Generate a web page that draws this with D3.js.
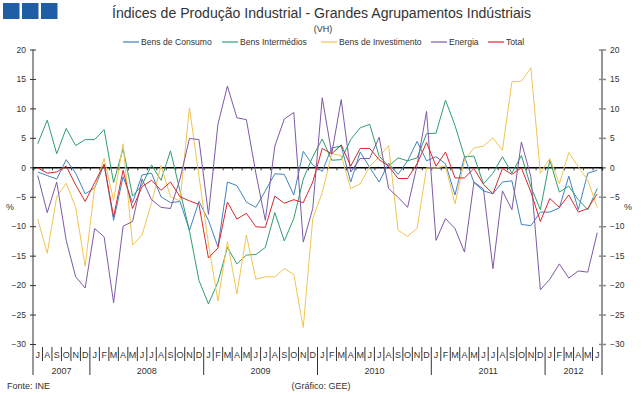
<!DOCTYPE html>
<html>
<head>
<meta charset="utf-8">
<style>
  body { margin: 0; background: #fff; }
  svg text { font-family: "Liberation Sans", Arial, sans-serif; fill: #333; }
</style>
</head>
<body>
<div id="chart"></div>
<script src="https://d3js.org/d3.v7.min.js"></script>
<script>
// categories: Jul 2007 .. Jun 2012
var years = ["2007", "2008", "2009", "2010", "2011", "2012"];
var monthsPerYear = [6, 12, 12, 12, 12, 6];
var months = [
  "J","A","S","O","N","D",
  "J","F","M","A","M","J","J","A","S","O","N","D",
  "J","F","M","A","M","J","J","A","S","O","N","D",
  "J","F","M","A","M","J","J","A","S","O","N","D",
  "J","F","M","A","M","J","J","A","S","O","N","D",
  "J","F","M","A","M","J"
];
var yTicks = [-30, -25, -20, -15, -10, -5, 0, 5, 10, 15, 20];

// VH (%) por agrupamento
var consumo = [
  -0.8, -1.4, -2.0, 1.3, -1.0, -4.5, -3.5, 0.5, -9.0, -1.6, -6.0, -1.3,
  -1.0, -5.0, -6.0, -5.8, -10.7, -5.8, -9.0, -13.5, -2.5, -3.1, -5.9, -6.8,
  -4.0, -1.1, -1.2, -4.7, 2.7, 0.4, -0.7, 3.3, 3.6, -2.5, 2.6, 0.0,
  -2.5, 0.7, -1.2, 1.1, 4.4, 1.1, 1.8, 0.6, -4.7, 1.8, -2.6, -4.0,
  -4.5, -2.5, -2.3, -9.7, -9.9, -7.6, -7.6, -6.9, -1.5, -7.2, -1.0, -0.5
];
var intermedios = [
  4.0, 8.0, 2.3, 6.6, 3.7, 4.7, 4.7, 6.4, -2.6, 3.2, -4.9, -3.0,
  0.4, -2.2, 2.8, -4.0, -10.8, -19.2, -23.2, -19.5, -13.6, -16.4, -14.9, -14.8,
  -13.6, -7.7, -12.5, -8.7, -2.0, 1.8, 4.8, 1.2, 1.3, 4.7, 6.7, 7.3,
  1.9, 0.2, 1.6, 1.1, 1.6, 5.7, 5.8, 11.4, 7.1, 1.8, 1.9, -2.8,
  -1.0, 1.8, -1.0, 2.0, -3.3, -7.2, 1.2, -4.2, -3.2, -5.5, -7.2, -3.6
];
var investimento = [
  -8.8, -14.6, -5.0, -2.7, -6.8, -16.8, -3.4, 1.5, -5.6, 4.0, -13.2, -11.5,
  -6.0, 0.3, -5.0, -5.7, 10.1, -1.5, -13.0, -22.7, -12.6, -21.5, -11.5, -19.0,
  -18.6, -18.6, -17.2, -18.2, -27.2, -8.7, -4.3, 2.3, 2.0, -3.6, -2.8, 0.1,
  1.8, 3.7, -10.7, -11.7, -10.4, -0.1, -0.1, 0.2, -6.2, 1.2, 3.3, 3.6,
  5.0, 2.9, 14.5, 14.6, 16.9, -1.0, 1.5, -2.8, 2.5, 0.1, -2.2, -6.8
];
var energia = [
  -1.4, -7.7, -2.5, -12.4, -18.6, -20.5, -10.4, -11.8, -23.0, -10.0, -9.2, -2.0,
  -5.5, -6.8, -7.0, -2.0, 4.9, 4.7, -8.0, 7.3, 13.8, 8.4, 8.1, -1.0,
  -9.0, 3.6, 8.2, 9.3, -12.7, -7.0, 11.8, 2.3, 11.5, -0.8, 1.5, 1.5,
  5.1, -3.6, -5.1, -6.8, 0.3, 9.5, -12.4, -8.7, -10.4, -14.4, -2.5, -3.7,
  -17.2, -4.0, -7.2, 4.3, -1.6, -20.8, -19.0, -16.4, -18.8, -17.6, -17.8, -11.1
];
var total = [
  -0.1, -1.0, -0.8, 0.2, -3.0, -5.8, -2.6, 0.5, -8.4, -0.5, -7.0, -3.3,
  -2.2, -3.9, -2.5, -5.0, -5.7, -6.3, -15.4, -13.7, -5.9, -8.8, -7.8, -10.1,
  -10.2, -4.9, -6.1, -5.5, -6.0, -2.5, 3.2, 2.3, 3.8, 0.2, 3.2, 3.2,
  1.3, 0.2, -1.9, -1.9, 0.6, 4.2, 0.2, 2.6, -1.8, -1.8, -0.2, -2.9,
  -4.5, -0.2, -1.2, -0.1, -4.2, -9.2, -5.3, -6.8, -4.7, -7.6, -7.0, -4.5
];

var seriesNames = ["Bens de Consumo", "Bens Intermédios", "Bens de Investimento", "Energia", "Total"];
var seriesColors = ["#4282c2", "#2f9e70", "#f0c552", "#7d5aa6", "#d9282d"];
var seriesValues = [consumo, intermedios, investimento, energia, total];

var width = 643, height = 395;
var plotLeft = 33, plotRight = 602, plotTop = 49.5, plotBottom = 344;

var svg = d3.select("#chart").append("svg")
  .attr("width", width)
  .attr("height", height);

// logo
svg.selectAll("rect.logo")
  .data([3, 22, 41])
  .enter().append("rect")
  .attr("class", "logo")
  .attr("x", d => d)
  .attr("y", 3)
  .attr("width", 16.5)
  .attr("height", 16)
  .attr("fill", "#1f5da6");

// title
svg.append("text")
  .attr("x", 321.5).attr("y", 18)
  .attr("text-anchor", "middle")
  .attr("font-size", 14)
  .attr("textLength", 419)
  .attr("lengthAdjust", "spacingAndGlyphs")
  .text("Índices de Produção Industrial - Grandes Agrupamentos Indústriais");
svg.append("text")
  .attr("x", 323).attr("y", 32)
  .attr("text-anchor", "middle")
  .attr("font-size", 9)
  .text("(VH)");

var x = d3.scaleBand()
  .domain(d3.range(months.length))
  .range([plotLeft, plotRight]);
var xl = d3.scaleLinear()
  .domain([0, months.length])
  .range([plotLeft, plotRight]);
var y = d3.scaleLinear()
  .domain([-30, 20])
  .range([plotBottom, plotTop]);

// left axis
var gl = svg.append("g")
  .attr("transform", "translate(" + plotLeft + ",0)")
  .call(d3.axisLeft(y).tickValues(yTicks).tickSize(3).tickPadding(4));
gl.select(".domain").remove();
gl.selectAll(".tick line").attr("x1", -3).attr("x2", 3).attr("stroke", "#333");
gl.selectAll(".tick text").attr("font-size", 8.5).attr("fill", "#333")
  .attr("font-family", "Liberation Sans, Arial, sans-serif");
svg.append("line")
  .attr("x1", plotLeft).attr("x2", plotLeft)
  .attr("y1", plotTop).attr("y2", 375)
  .attr("stroke", "#333").attr("stroke-width", 1);

// right axis
var gr = svg.append("g")
  .attr("transform", "translate(" + plotRight + ",0)")
  .call(d3.axisRight(y).tickValues(yTicks).tickSize(3).tickPadding(5));
gr.select(".domain").remove();
gr.selectAll(".tick line").attr("x1", -3).attr("x2", 4).attr("stroke", "#8a8a8a").attr("stroke-width", 1.5);
gr.selectAll(".tick text").attr("font-size", 8.5).attr("fill", "#333")
  .attr("font-family", "Liberation Sans, Arial, sans-serif");
svg.append("line")
  .attr("x1", plotRight).attr("x2", plotRight)
  .attr("y1", plotTop).attr("y2", 375)
  .attr("stroke", "#8a8a8a").attr("stroke-width", 1.8);

// % labels
svg.append("text").attr("x", 10).attr("y", 210).attr("text-anchor", "middle")
  .attr("font-size", 9).text("%");
svg.append("text").attr("x", 628).attr("y", 210).attr("text-anchor", "middle")
  .attr("font-size", 9).text("%");

// zero line with month ticks
var gz = svg.append("g")
  .attr("transform", "translate(0," + y(0) + ")")
  .call(d3.axisBottom(xl).tickValues(d3.range(months.length + 1)).tickSize(3).tickFormat(""));
gz.select(".domain").attr("stroke", "#000").attr("stroke-width", 1.5);
gz.selectAll(".tick line").attr("stroke", "#333");

// category axis: months
svg.append("g").selectAll("text")
  .data(months)
  .enter().append("text")
  .attr("x", (d, i) => x(i) + x.bandwidth() / 2)
  .attr("y", 358)
  .attr("text-anchor", "middle")
  .attr("font-size", 9)
  .text(d => d);

var yearStarts = [];
var acc = 0;
monthsPerYear.forEach(function(n) { yearStarts.push(acc); acc += n; });

svg.append("g").selectAll("line")
  .data(d3.range(1, months.length))
  .enter().append("line")
  .attr("x1", d => xl(d)).attr("x2", d => xl(d))
  .attr("y1", 347)
  .attr("y2", d => yearStarts.indexOf(d) >= 0 ? 375 : 361)
  .attr("stroke", "#333").attr("stroke-width", 1);

svg.append("g").selectAll("text")
  .data(years)
  .enter().append("text")
  .attr("x", (d, i) => xl(yearStarts[i] + monthsPerYear[i] / 2))
  .attr("y", 374)
  .attr("text-anchor", "middle")
  .attr("font-size", 9)
  .text(d => d);

// series lines
var line = d3.line()
  .x((d, i) => x(i) + x.bandwidth() / 2)
  .y(d => y(d));

svg.append("g").selectAll("path")
  .data(seriesValues)
  .enter().append("path")
  .attr("d", d => line(d))
  .attr("fill", "none")
  .attr("stroke", (d, i) => seriesColors[i])
  .attr("stroke-width", 1)
  .attr("stroke-linejoin", "round");

// legend
var legendX = [123, 222, 321, 431, 488];
var lg = svg.append("g").selectAll("g")
  .data(seriesNames)
  .enter().append("g")
  .attr("transform", (d, i) => "translate(" + legendX[i] + ",42)");
lg.append("line")
  .attr("x1", 0).attr("x2", 16)
  .attr("stroke", (d, i) => seriesColors[i])
  .attr("stroke-width", 1.2);
lg.append("text")
  .attr("x", 18).attr("y", 3)
  .attr("font-size", 8.6)
  .text(d => d);

// footer
svg.append("text").attr("x", 7).attr("y", 389).attr("font-size", 9).text("Fonte: INE");
svg.append("text").attr("x", 321).attr("y", 389).attr("text-anchor", "middle")
  .attr("font-size", 9).text("(Gráfico: GEE)");
</script>
</body>
</html>
